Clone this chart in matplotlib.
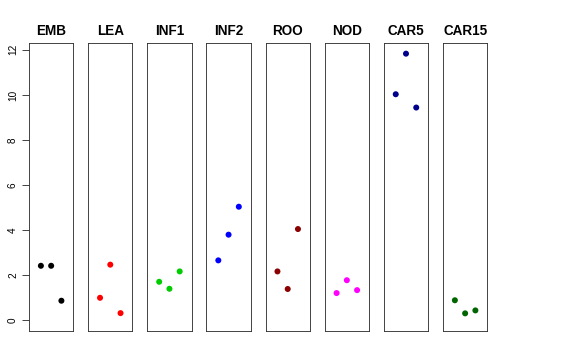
import matplotlib
matplotlib.use("Agg")
import matplotlib.pyplot as plt

plt.rcParams['font.family'] = ['Liberation Sans', 'DejaVu Sans']

tissues = ["EMB", "LEA", "INF1", "INF2", "ROO", "NOD", "CAR5", "CAR15"]
colors = ["#000000", "#FF0000", "#00CD00", "#0000FF", "#8B0000", "#FF00FF", "#00008B", "#006400"]
values = {
    "EMB":   [2.42, 2.42, 0.87],
    "LEA":   [1.00, 2.47, 0.32],
    "INF1":  [1.71, 1.40, 2.17],
    "INF2":  [2.66, 3.80, 5.04],
    "ROO":   [2.17, 1.39, 4.05],
    "NOD":   [1.21, 1.78, 1.34],
    "CAR5":  [10.03, 11.83, 9.44],
    "CAR15": [0.89, 0.31, 0.44],
}
replicates = [1, 2, 3]
yticks = [0, 2, 4, 6, 8, 10, 12]

W, H = 576, 360
fig = plt.figure(figsize=(W / 72, H / 72), dpi=72)

ymax = max(max(v) for v in values.values())
ylo, yhi = 0 - 0.04 * ymax, ymax + 0.04 * ymax

left0, pw, step = 29, 44.3, 59.14
top, bottom = 43, 331
for i, (t, c) in enumerate(zip(tissues, colors)):
    x0 = left0 + i * step
    ax = fig.add_axes([x0 / W, (H - bottom) / H, pw / W, (bottom - top) / H])
    ax.scatter(replicates, values[t], s=36, color=c, edgecolors='none', zorder=3)
    ax.set_xlim(-0.16, 4.16)
    ax.set_ylim(ylo, yhi)
    ax.set_xticks([])
    for sp in ax.spines.values():
        sp.set_color('#333333')
        sp.set_linewidth(0.9)
    ax.set_title(t, fontsize=13.5, fontweight='bold', pad=8)
    if i == 0:
        ax.set_yticks(yticks)
        ax.set_yticklabels([str(v) for v in yticks], rotation=90, va='center', fontsize=10)
        ax.tick_params(axis='y', length=7, width=0.9, pad=4, color='#333333')
    else:
        ax.set_yticks([])

fig.savefig("out.png", dpi=72)
